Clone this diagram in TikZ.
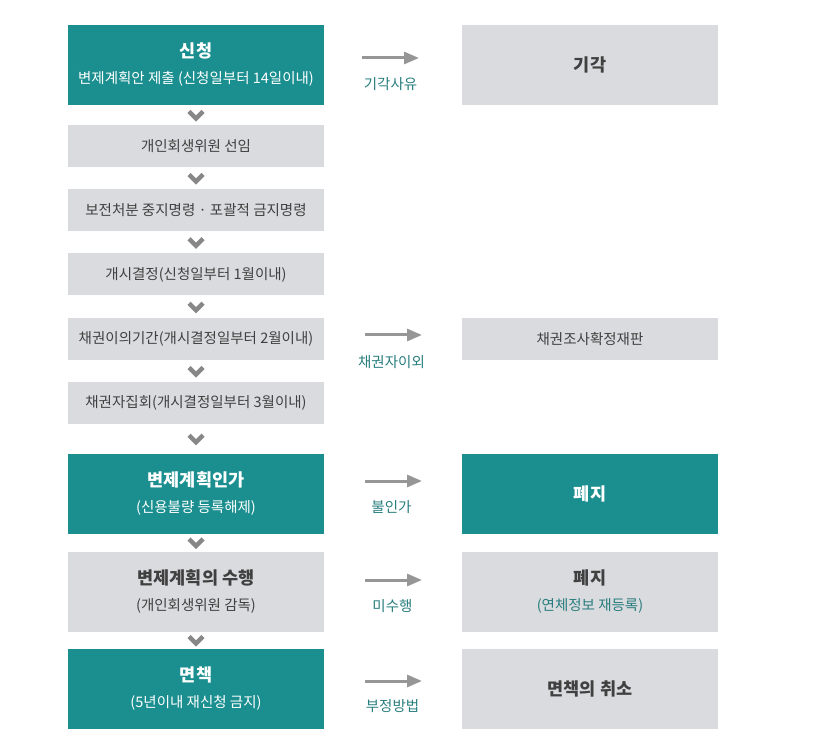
\documentclass[tikz,border=0pt]{standalone}
\usepackage{fontspec}
\setmainfont{Noto Sans CJK KR}
\usetikzlibrary{arrows.meta,calc,positioning}
\definecolor{TealBox}{RGB}{27,143,144}
\definecolor{GrayBox}{RGB}{218,219,222}
\definecolor{TextGray}{RGB}{64,64,64}
\definecolor{LabelTeal}{RGB}{40,125,126}
\definecolor{ArrowGray}{RGB}{150,150,150}
\definecolor{ChevGray}{RGB}{135,135,135}
\newcommand{\stagetitle}[1]{{\bfseries\fontsize{17.5}{26}\selectfont #1}}

\begin{document}
\begin{tikzpicture}[x=1pt,y=-1pt,
  stagebox/.style={minimum width=256pt,minimum height=42pt,inner sep=0pt,
    align=center,font=\fontsize{14.5}{26}\selectfont},
  tealbox/.style={stagebox,fill=TealBox,text=white,minimum height=80pt},
  graybox/.style={stagebox,fill=GrayBox,text=TextGray},
  tallbox/.style={minimum height=80pt},
  sidearrow/.style={ArrowGray,line width=3pt,-{Triangle[length=15pt,width=12pt]}},
  sidelabel/.style={text=LabelTeal,inner sep=0pt,font=\fontsize{14.5}{16}\selectfont},
  chevron/.style={ChevGray,line width=4.5pt}]
\useasboundingbox (0,0) rectangle (830,743);

% left column
\node[tealbox] (b1) at (196,65) {\stagetitle{신청}\\변제계획안 제출 (신청일부터 14일이내)};
\node[graybox] (b2) at (196,146) {개인회생위원 선임};
\node[graybox] (b3) at (196,210) {보전처분 중지명령 · 포괄적 금지명령};
\node[graybox] (b4) at (196,274.5) {개시결정(신청일부터 1월이내)};
\node[graybox] (b5) at (196,339) {채권이의기간(개시결정일부터 2월이내)};
\node[graybox] (b6) at (196,403) {채권자집회(개시결정일부터 3월이내)};
\node[tealbox] (b7) at (196,493.5) {\stagetitle{변제계획인가}\\(신용불량 등록해제)};
\node[graybox,tallbox] (b8) at (196,591.5) {\stagetitle{변제계획의 수행}\\(개인회생위원 감독)};
\node[tealbox] (b9) at (196,688.5) {\stagetitle{면책}\\(5년이내 재신청 금지)};

% right column
\node[graybox,tallbox] (r1) at (590,65) {\stagetitle{기각}};
\node[graybox] (r5) at (590,339) {채권조사확정재판};
\node[tealbox] (r7) at (590,493.5) {\stagetitle{폐지}};
\node[graybox,tallbox] (r8) at (590,591.5) {\stagetitle{폐지}\\\textcolor{LabelTeal}{(연체정보 재등록)}};
\node[graybox,tallbox] (r9) at (590,688.5) {\stagetitle{면책의 취소}};

% chevrons between stages
\foreach \a/\b in {b1/b2,b2/b3,b3/b4,b4/b5,b5/b6,b6/b7,b7/b8,b8/b9}
  \draw[chevron] ($(\a.south)!.5!(\b.north)$) ++(-7,-3.5) -- ++(7,7) -- ++(7,-7);

% side arrows
\coordinate (a1s) at (362,58);  \coordinate (a1e) at (419,58);
\coordinate (a5s) at (365,335); \coordinate (a5e) at (422,335);
\coordinate (a7s) at (365,481); \coordinate (a7e) at (422,481);
\coordinate (a8s) at (365,580); \coordinate (a8e) at (422,580);
\coordinate (a9s) at (365,681); \coordinate (a9e) at (422,681);

\draw[sidearrow] (a1s) -- (a1e);
\draw[sidearrow] (a5s) -- (a5e);
\draw[sidearrow] (a7s) -- (a7e);
\draw[sidearrow] (a8s) -- (a8e);
\draw[sidearrow] (a9s) -- (a9e);

\node[sidelabel] (l1) at ($(a1s)!.5!(a1e)+(0,26)$) {기각사유};
\node[sidelabel] (l5) at ($(a5s)!.5!(a5e)+(-2,27)$) {채권자이외};
\node[sidelabel] (l7) at ($(a7s)!.5!(a7e)+(-2,26)$) {불인가};
\node[sidelabel] (l8) at ($(a8s)!.5!(a8e)+(-1,26)$) {미수행};
\node[sidelabel] (l9) at ($(a9s)!.5!(a9e)+(-1,25)$) {부정방법};

\end{tikzpicture}
\end{document}
